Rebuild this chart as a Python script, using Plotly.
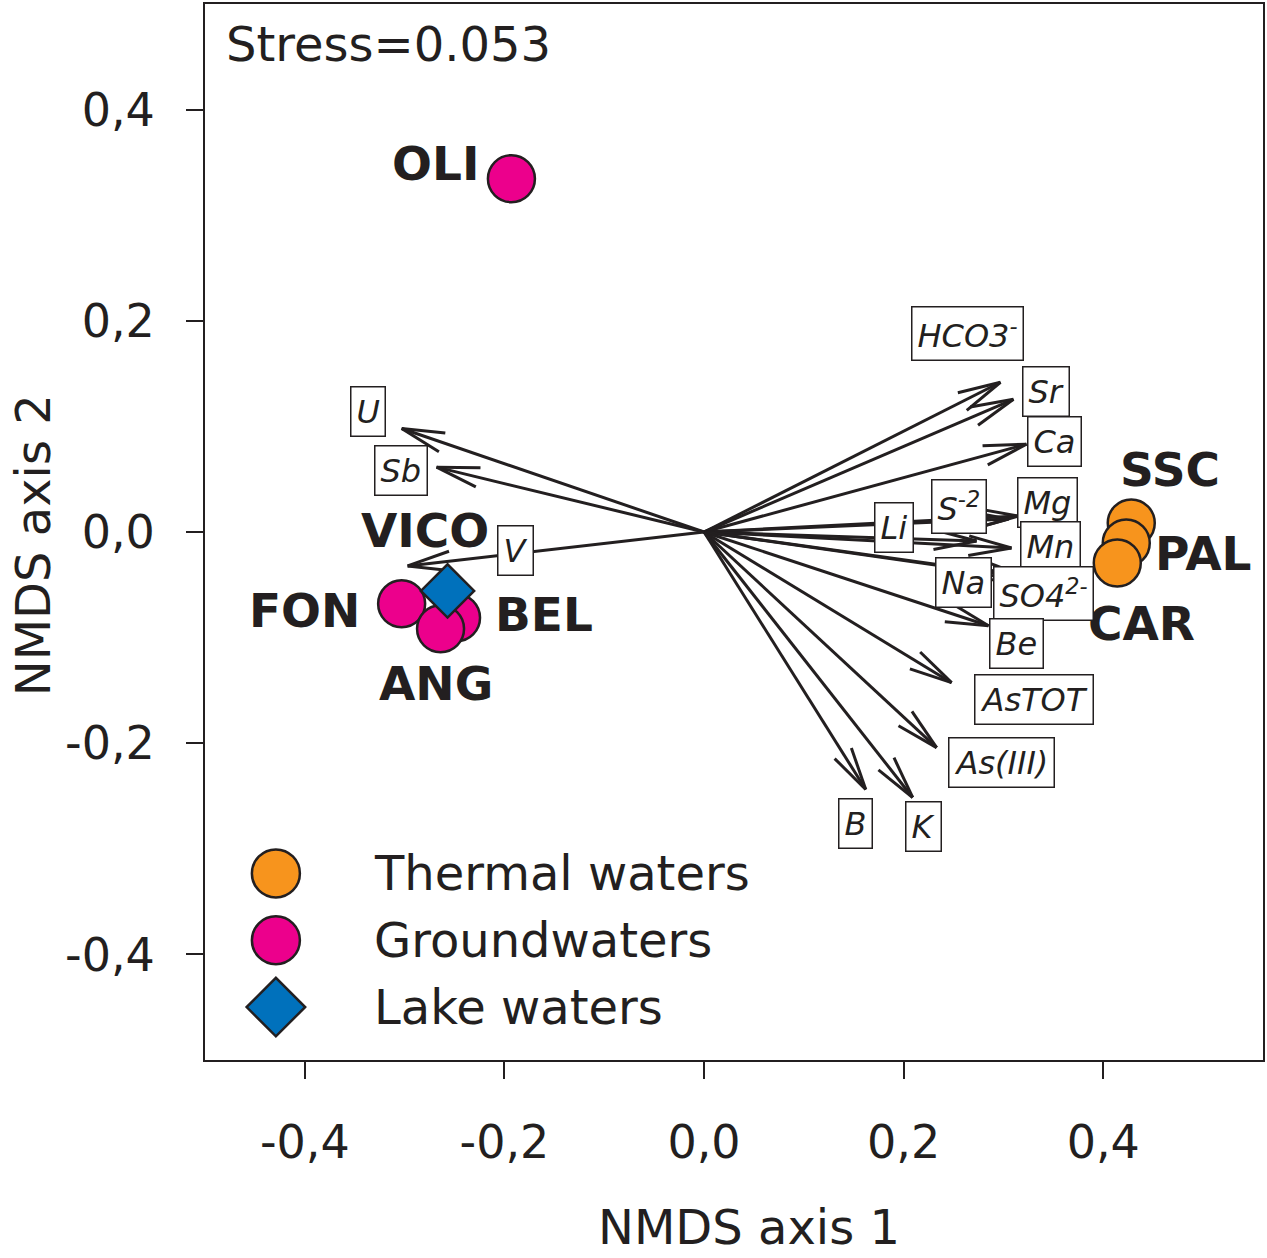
import numpy as np
import plotly.graph_objects as go

# site scores (NMDS axis 1, axis 2)
sites = ['SSC', 'PAL', 'CAR', 'BEL', 'FON', 'ANG', 'OLI', 'VICO']
site_type = ['Thermal waters', 'Thermal waters', 'Thermal waters',
             'Groundwaters', 'Groundwaters', 'Groundwaters', 'Groundwaters',
             'Lake waters']
site_x = [0.428, 0.423, 0.414, -0.248, -0.303, -0.264, -0.193, -0.257]
site_y = [0.0085, -0.0104, -0.0293, -0.0813, -0.068, -0.0917, 0.3346, -0.0558]

# fitted variables (arrow tips)
variables = ['HCO3<sup>-</sup>', 'Sr', 'Ca', 'Mg', 'S<sup>-2</sup>', 'Li', 'Mn', 'Na',
             'SO4<sup>2-</sup>', 'Be', 'AsTOT', 'As(III)', 'B', 'K', 'U', 'Sb', 'V']
var_x = [0.297, 0.310, 0.323, 0.315, 0.305, 0.273, 0.308, 0.300,
         0.322, 0.285, 0.248, 0.233, 0.162, 0.209, -0.303, -0.268, -0.297]
var_y = [0.1418, 0.1257, 0.0832, 0.0151, 0.0123, -0.0085, -0.0151, -0.0406,
         -0.0425, -0.0888, -0.1427, -0.2042, -0.2439, -0.2514, 0.098, 0.0614, -0.0321]

x_ticks = [-0.4, -0.2, 0.0, 0.2, 0.4]
x_ticktext = ['-0,4', '-0,2', '0,0', '0,2', '0,4']
y_ticks = [-0.4, -0.2, 0.0, 0.2, 0.4]
y_ticktext = ['-0,4', '-0,2', '0,0', '0,2', '0,4']

stress = 0.053

# styling
W, H = 1267, 1258
ML, MR, MT, MB = 205, 2, 2, 198
XR = [-0.5, 0.56]
YR = [-0.5, 0.5]
INK = '#231F20'
FONT = 'DejaVu Sans'
colors = {'Thermal waters': '#F7941D', 'Groundwaters': '#EC008C', 'Lake waters': '#0071BC'}
symbols = {'Thermal waters': 'circle', 'Groundwaters': 'circle', 'Lake waters': 'diamond'}
sizes = {'Thermal waters': 47, 'Groundwaters': 47, 'Lake waters': 41}

# label offsets in pixels (dx right, dy up)
site_off = {'OLI': (-76, 15), 'SSC': (39, 54), 'PAL': (77, -11), 'CAR': (24, -61),
            'VICO': (-23, 60), 'FON': (-97, -7), 'BEL': (87, 3), 'ANG': (-5, -55)}
var_off = [(-33, 49), (33, 8), (28, 3), (29, 14), (-49, 13), (-83, 13), (39, 1),
           (-40, -8), (18, -17), (28, -18), (82, -17), (65, -15), (-10, -34),
           (11, -29), (-34, 17), (-36, -3), (108, 15)]

sx = (W - ML - MR) / (XR[1] - XR[0])
sy = (H - MT - MB) / (YR[1] - YR[0])

fig = go.Figure()

# arrows: shaft + open V head, built in pixel space then mapped back
L, th = 44, np.radians(13)
ax_, ay_ = [], []
for x, y in zip(var_x, var_y):
    px, py = x * sx, y * sy
    n = np.hypot(px, py)
    ux, uy = px / n, py / n
    ax_ += [0, x, None]
    ay_ += [0, y, None]
    for s in (th, -th):
        rx = ux * np.cos(s) - uy * np.sin(s)
        ry = ux * np.sin(s) + uy * np.cos(s)
        ax_ += [x - L * rx / sx, x, None]
        ay_ += [y - L * ry / sy, y, None]
fig.add_trace(go.Scatter(x=ax_, y=ay_, mode='lines', line=dict(color=INK, width=3),
                         hoverinfo='skip', showlegend=False))

# site markers (draw order matters for overlaps)
for i in range(len(sites)):
    t = site_type[i]
    fig.add_trace(go.Scatter(
        x=[site_x[i]], y=[site_y[i]], mode='markers', showlegend=False,
        marker=dict(size=sizes[t], color=colors[t], symbol=symbols[t],
                    line=dict(color=INK, width=2.5))))

annotations = []
for i, s in enumerate(sites):
    dx, dy = site_off[s]
    annotations.append(dict(x=site_x[i], y=site_y[i], text='<b>%s</b>' % s, showarrow=False,
                            xshift=dx, yshift=dy, font=dict(family=FONT, size=47, color=INK)))
for i, v in enumerate(variables):
    dx, dy = var_off[i]
    annotations.append(dict(x=var_x[i], y=var_y[i], text='<i>%s</i>' % v, showarrow=False,
                            xshift=dx, yshift=dy, bgcolor='white', bordercolor=INK,
                            borderwidth=1.5, borderpad=5,
                            font=dict(family=FONT, size=32, color=INK)))

# legend drawn on a hidden overlay axis so the symbols can be full size
leg_names = ['Thermal waters', 'Groundwaters', 'Lake waters']
leg_x = 0.067
leg_y = [0.1767, 0.1134, 0.0501]
for name, ly in zip(leg_names, leg_y):
    fig.add_trace(go.Scatter(
        x=[leg_x], y=[ly], xaxis='x2', yaxis='y2', mode='markers', showlegend=False,
        hoverinfo='skip',
        marker=dict(size=48 if symbols[name] == 'circle' else 45, color=colors[name],
                    symbol=symbols[name], line=dict(color=INK, width=2.5))))
    annotations.append(dict(x=0.1575, y=ly, xref='paper', yref='paper',
                            xanchor='left', yanchor='middle',
                            text=name, showarrow=False,
                            font=dict(family=FONT, size=48, color=INK)))

annotations.append(dict(x=0.018, y=0.962, xref='paper', yref='paper',
                        xanchor='left', yanchor='middle',
                        text='Stress=%.3f' % stress, showarrow=False,
                        font=dict(family=FONT, size=48, color=INK)))
annotations.append(dict(x=0.514, y=-0.158, xref='paper', yref='paper',
                        xanchor='center', yanchor='middle',
                        text='NMDS axis 1', showarrow=False,
                        font=dict(family=FONT, size=48, color=INK)))
annotations.append(dict(x=-0.163, y=0.487, xref='paper', yref='paper', textangle=-90,
                        xanchor='center', yanchor='middle',
                        text='NMDS axis 2', showarrow=False,
                        font=dict(family=FONT, size=48, color=INK)))

axis_common = dict(showgrid=False, zeroline=False, showline=True, mirror=True,
                   linecolor=INK, linewidth=2, ticks='outside', ticklen=17,
                   tickwidth=2, tickcolor=INK,
                   tickfont=dict(family=FONT, size=46, color=INK))

fig.update_layout(
    width=W, height=H,
    margin=dict(l=ML, r=MR, t=MT, b=MB),
    paper_bgcolor='white', plot_bgcolor='white',
    xaxis=dict(range=XR, tickvals=x_ticks, ticktext=x_ticktext,
               ticklabelstandoff=24, **axis_common),
    yaxis=dict(range=YR, tickvals=y_ticks, ticktext=y_ticktext,
               ticklabelstandoff=22, **axis_common),
    xaxis2=dict(range=[0, 1], overlaying='x', visible=False, anchor='y2'),
    yaxis2=dict(range=[0, 1], overlaying='y', visible=False, anchor='x2'),
    annotations=annotations,
    showlegend=False,
)

fig.write_html('out.html', config={'displayModeBar': False},
               post_script="document.body.style.margin='0';")
